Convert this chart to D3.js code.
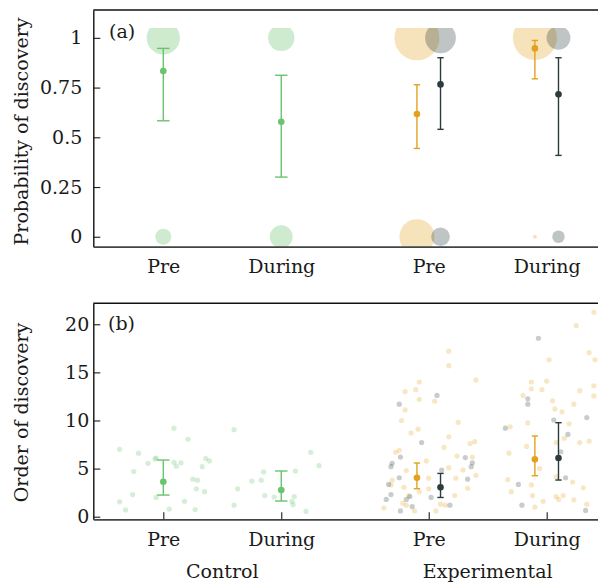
<!DOCTYPE html>
<html>
<head>
<meta charset="utf-8">
<script src="https://cdn.jsdelivr.net/npm/d3@7"></script>
<style>
  body { margin: 0; background: #fff; }
  text { font-family: "DejaVu Serif", serif; fill: #1a1a1a; }
</style>
</head>
<body>
<svg id="chart" width="598" height="585"></svg>
<script>
// categories
const groups = ["Pre", "During", "Pre", "During"];
const groupX = [1, 2, 3.25, 4.25];
const treatments = ["Control", "Experimental"];
const probTicks = [0, 0.25, 0.5, 0.75, 1];
const orderTicks = [0, 5, 10, 15, 20];

// (a) number of trials discovered / not discovered
const countControl = [{g: 0, found: 25, missed: 5}, {g: 1, found: 15, missed: 11}];
const countOrange  = [{g: 2, found: 48, missed: 28}, {g: 3, found: 46, missed: 1}];
const countGrey    = [{g: 2, found: 21, missed: 7}, {g: 3, found: 12, missed: 3}];

// (a) probability of discovery, estimate and interval
const probControl = [{g: 0, mean: 0.833, lo: 0.583, hi: 0.947}, {g: 1, mean: 0.578, lo: 0.30, hi: 0.812}];
const probOrange  = [{g: 2, mean: 0.617, lo: 0.444, hi: 0.764}, {g: 3, mean: 0.947, lo: 0.794, hi: 0.987}];
const probGrey    = [{g: 2, mean: 0.766, lo: 0.54, hi: 0.90}, {g: 3, mean: 0.716, lo: 0.409, hi: 0.90}];

// (b) order of discovery, estimate and interval
const orderControl = [{g: 0, mean: 3.64, lo: 2.25, hi: 5.89}, {g: 1, mean: 2.77, lo: 1.63, hi: 4.75}];
const orderOrange  = [{g: 2, mean: 4.05, lo: 2.91, hi: 5.58}, {g: 3, mean: 5.96, lo: 4.26, hi: 8.39}];
const orderGrey    = [{g: 2, mean: 3.05, lo: 2.0, hi: 4.5}, {g: 3, mean: 6.1, lo: 3.81, hi: 9.77}];

// (b) raw observations: [jitter, order]
const rawControlPre = [[0.09,9.2],[0.21,8.05],[-0.37,7.0],[-0.21,6.6],[-0.13,5.55],[-0.06,6.1],[-0.07,6.0],
  [0.09,5.65],[0.15,5.6],[0.11,5.25],[0.36,6.05],[0.39,5.8],[0.33,5.2],[-0.25,4.7],[0.25,3.9],[0.29,3.8],
  [0.28,2.9],[0.35,2.6],[-0.26,2.3],[-0.06,2.0],[-0.37,1.55],[0.18,1.6],[-0.32,0.7],[0.05,0.8],[0.27,0.75]];
const rawControlDuring = [[-0.40,9.05],[0.25,6.7],[0.32,5.3],[-0.15,4.65],[0.12,4.75],[-0.25,3.7],[-0.17,3.8],
  [-0.37,2.9],[-0.14,2.2],[-0.06,2.05],[0.11,2.1],[0.09,1.6],[0.10,1.25],[-0.40,1.2],[0.21,0.55]];
const rawOrangePre = [[0.17,17.2],[0.17,15.7],[0.40,14.2],[-0.08,14.0],[-0.20,13.0],[-0.11,13.2],[-0.08,12.2],
  [0.05,12.0],[-0.20,11.1],[-0.23,10.0],[0.25,9.8],[-0.09,9.1],[-0.15,8.7],[0.17,8.3],[0.13,7.2],[0.35,7.6],
  [0.39,7.8],[-0.28,6.7],[-0.25,6.9],[0.24,6.3],[0.37,6.2],[-0.02,5.8],[-0.19,4.8],[0.17,5.1],[0.29,4.85],
  [0.40,4.3],[-0.31,3.8],[-0.32,3.3],[-0.21,3.05],[0.0,4.0],[0.0,2.9],[-0.08,2.6],[0.23,4.0],[0.33,2.95],
  [0.22,2.2],[-0.17,2.2],[-0.22,1.4],[-0.38,0.9],[-0.12,0.6],[0.06,0.6],[0.10,1.3],[0.14,1.2],[-0.19,1.2]];
const rawOrangeDuring = [[0.40,21.25],[0.25,19.85],[0.36,17.05],[0.41,16.3],[0.02,16.3],[-0.13,14.0],[0.0,14.1],
  [-0.13,13.3],[-0.04,13.2],[0.28,13.1],[0.40,13.6],[0.40,12.55],[-0.20,12.6],[0.05,12.05],[0.23,11.7],
  [0.07,11.2],[0.13,10.9],[-0.31,9.35],[-0.16,9.75],[0.19,9.65],[0.15,8.15],[0.28,7.7],[0.36,7.85],[0.08,7.7],
  [-0.17,7.3],[-0.32,6.6],[-0.06,5.0],[-0.33,3.85],[-0.13,3.3],[0.08,4.15],[0.22,3.6],[0.31,3.0],[-0.30,2.6],
  [-0.12,2.2],[0.08,2.1],[0.10,1.8],[0.14,2.2],[-0.03,1.6],[0.23,1.75],[-0.10,1.0],[0.34,1.3]];
const rawGreyPre = [[-0.25,11.7],[0.07,12.6],[-0.06,7.7],[-0.24,6.2],[-0.31,5.55],[-0.32,5.2],[-0.25,4.05],
  [-0.34,3.35],[-0.32,2.3],[-0.36,1.8],[-0.19,1.8],[-0.16,2.1],[-0.14,1.05],[-0.24,0.6],[0.02,2.0],[0.11,4.85],
  [0.18,1.2],[0.31,6.15],[0.37,5.6],[0.36,5.2],[0.33,3.9]];
const rawGreyDuring = [[-0.07,18.55],[-0.16,12.25],[-0.16,11.7],[0.06,10.05],[0.34,10.3],[-0.35,9.2],[0.18,8.55],
  [0.12,6.75],[-0.24,3.35],[0.16,4.05],[-0.21,1.2],[0.33,0.65]];

const green = "#5cbe64", orange = "#e3a11f", grey = "#2c3b3b";
const fs = 19;

const svg = d3.select("#chart");

const x = d3.scaleLinear().domain([0.4066, 4.685]).range([93.3, 598]);
const yA = d3.scaleLinear().domain([-0.05, 1.14]).range([246.7, 10]);
const yB = d3.scaleLinear().domain([-0.27, 22.18]).range([519.3, 303.3]);
const r = d3.scaleSqrt().domain([0, 47]).range([2, 22.5]);

function styleAxis(g) {
  g.selectAll("text").attr("font-size", fs).attr("font-family", "DejaVu Serif, serif").attr("fill", "#1a1a1a");
  g.selectAll(".tick line").attr("stroke", "#1a1a1a").attr("stroke-width", 1.1);
}

// ---------- panel (a) ----------
const gA = svg.append("g");
svg.append("clipPath").attr("id", "clipA").append("rect")
  .attr("x", 93.3).attr("width", 510)
  .attr("y", yA(1.05)).attr("height", yA(-0.05) - yA(1.05));

const bub = gA.append("g").attr("clip-path", "url(#clipA)");
function bubbles(data, off, col) {
  data.forEach(d => {
    bub.append("circle").attr("cx", x(groupX[d.g] + off)).attr("cy", yA(1))
      .attr("r", r(d.found - 1)).attr("fill", col).attr("fill-opacity", 0.3);
    bub.append("circle").attr("cx", x(groupX[d.g] + off)).attr("cy", yA(0))
      .attr("r", r(d.missed - 1)).attr("fill", col).attr("fill-opacity", 0.3);
  });
}
bubbles(countControl, 0, green);
bubbles(countOrange, -0.1, orange);
bubbles(countGrey, 0.1, grey);

function errorBars(g, y, data, off, col, cap, lw) {
  data.forEach(d => {
    const cx = x(groupX[d.g] + off);
    const w = x(groupX[d.g] + cap) - x(groupX[d.g]);
    g.append("line").attr("x1", cx).attr("x2", cx).attr("y1", y(d.lo)).attr("y2", y(d.hi))
      .attr("stroke", col).attr("stroke-width", lw);
    [d.lo, d.hi].forEach(v => g.append("line").attr("x1", cx - w).attr("x2", cx + w)
      .attr("y1", y(v)).attr("y2", y(v)).attr("stroke", col).attr("stroke-width", lw));
    g.append("circle").attr("cx", cx).attr("cy", y(d.mean)).attr("r", 3.3).attr("fill", col);
  });
}
errorBars(gA, yA, probControl, 0, "#68c46e", 0.053, 1.4);
errorBars(gA, yA, probOrange, -0.1, orange, 0.027, 1.4);
errorBars(gA, yA, probGrey, 0.1, grey, 0.027, 1.4);

gA.append("g").attr("transform", "translate(93.3,0)")
  .call(d3.axisLeft(yA).tickValues(probTicks).tickFormat(d => String(d))
    .tickSizeInner(-7).tickSizeOuter(0).tickPadding(11))
  .call(styleAxis)
  .call(g => g.select(".domain").attr("stroke", "#111").attr("stroke-width", 1.4));

gA.append("g").attr("transform", "translate(0,246.7)")
  .call(d3.axisBottom(x).tickValues(groupX).tickFormat((d, i) => groups[i])
    .tickSize(0).tickPadding(12.8))
  .call(styleAxis)
  .call(g => g.select(".domain").attr("stroke", "#444").attr("stroke-width", 1.8));

gA.append("line").attr("x1", 93.3).attr("x2", 598).attr("y1", 10).attr("y2", 10)
  .attr("stroke", "#111").attr("stroke-width", 1.4);

gA.append("text").attr("x", 109).attr("y", 38).attr("font-size", fs).text("(a)");
gA.append("text").attr("transform", "translate(27.5,131.5) rotate(-90)")
  .attr("text-anchor", "middle").attr("font-size", fs).text("Probability of discovery");

// ---------- panel (b) ----------
const gB = svg.append("g");
function rawPoints(data, g, col) {
  gB.append("g").selectAll("circle").data(data).join("circle")
    .attr("cx", d => x(groupX[g] + d[0])).attr("cy", d => yB(d[1]))
    .attr("r", 2.6).attr("fill", col).attr("fill-opacity", 0.26);
}
rawPoints(rawControlPre, 0, green);
rawPoints(rawControlDuring, 1, green);
rawPoints(rawOrangePre, 2, orange);
rawPoints(rawOrangeDuring, 3, orange);
rawPoints(rawGreyPre, 2, grey);
rawPoints(rawGreyDuring, 3, grey);

errorBars(gB, yB, orderControl, 0, "#68c46e", 0.053, 1.4);
errorBars(gB, yB, orderOrange, -0.1, orange, 0.027, 1.4);
errorBars(gB, yB, orderGrey, 0.1, grey, 0.027, 1.4);

gB.append("g").attr("transform", "translate(93.3,0)")
  .call(d3.axisLeft(yB).tickValues(orderTicks).tickSizeInner(-7).tickSizeOuter(0).tickPadding(4))
  .call(styleAxis)
  .call(g => g.select(".domain").attr("stroke", "#111").attr("stroke-width", 1.4));

gB.append("g").attr("transform", "translate(0,519.3)")
  .call(d3.axisBottom(x).tickValues(groupX).tickFormat((d, i) => groups[i])
    .tickSizeInner(-7).tickSizeOuter(0).tickPadding(13.2))
  .call(styleAxis)
  .call(g => g.select(".domain").attr("stroke", "#444").attr("stroke-width", 1.8));

gB.append("line").attr("x1", 93.3).attr("x2", 598).attr("y1", 303.3).attr("y2", 303.3)
  .attr("stroke", "#111").attr("stroke-width", 1.4);

gB.append("text").attr("x", 108).attr("y", 330).attr("font-size", fs).text("(b)");
gB.append("text").attr("transform", "translate(27.5,412.5) rotate(-90)")
  .attr("text-anchor", "middle").attr("font-size", fs).text("Order of discovery");

gB.selectAll(".treat").data(treatments).join("text")
  .attr("x", (d, i) => x((groupX[2 * i] + groupX[2 * i + 1]) / 2)).attr("y", 578)
  .attr("text-anchor", "middle").attr("font-size", fs).text(d => d);
</script>
</body>
</html>
